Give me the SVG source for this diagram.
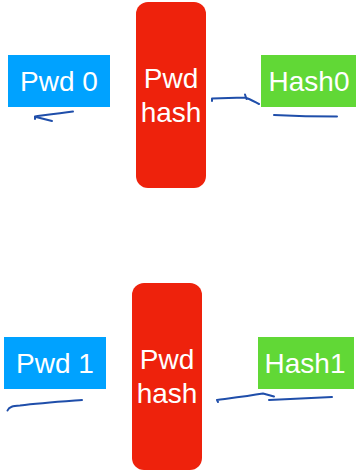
<svg xmlns="http://www.w3.org/2000/svg" width="356" height="471" viewBox="0 0 356 471">
  <style>
    .pwd { fill: #00a2ff; }
    .hash { fill: #61d836; }
    .fn { fill: #ee220c; }
    .lbl { font-family: "Liberation Sans", Arial, sans-serif; font-size: 28px; fill: #ffffff; text-anchor: middle; }
    .ink { fill: none; stroke: #1f4eaa; stroke-width: 2; stroke-linecap: round; stroke-linejoin: round; }
  </style>
  <rect width="356" height="471" fill="#ffffff"/>

  <!-- top row -->
  <g id="pwd0">
    <rect class="pwd" x="8" y="55" width="102" height="52"/>
    <text class="lbl" x="59" y="91">Pwd 0</text>
  </g>
  <g id="hashfn0">
    <rect class="fn" x="136" y="2" width="70" height="186" rx="12"/>
    <text class="lbl" x="171" y="88">Pwd</text>
    <text class="lbl" x="171" y="122">hash</text>
  </g>
  <g id="hash0">
    <rect class="hash" x="261" y="55" width="95" height="52"/>
    <text class="lbl" x="309" y="91">Hash0</text>
  </g>

  <!-- bottom row -->
  <g id="pwd1">
    <rect class="pwd" x="4" y="337" width="102" height="52"/>
    <text class="lbl" x="55" y="373">Pwd 1</text>
  </g>
  <g id="hashfn1">
    <rect class="fn" x="132" y="283" width="70" height="187" rx="12"/>
    <text class="lbl" x="167" y="369">Pwd</text>
    <text class="lbl" x="167" y="403">hash</text>
  </g>
  <g id="hash1">
    <rect class="hash" x="258" y="337" width="96" height="52"/>
    <text class="lbl" x="305" y="373">Hash1</text>
  </g>

  <!-- hand-drawn pen strokes -->
  <g id="connectors">
    <path class="ink" d="M73,111.5 C60,113 46,115 35,116.5 L35,119 M36,117 L52,121"/>
    <path class="ink" d="M212,101 L212,98.5 L245,97.5 C250,99 255,102 259,104 M245,94.5 L246.5,99"/>
    <path class="ink" d="M274,115 C295,116 318,116.5 337,116.5"/>
    <path class="ink" d="M7.5,410.5 C9,406.5 13,406 20,405.5 C40,403 62,401.5 82,400"/>
    <path class="ink" d="M218,402 L217,400 C232,398 248,396 263,393.5 L274,396.5"/>
    <path class="ink" d="M269,400 C290,399 312,398 332,397"/>
  </g>
</svg>
